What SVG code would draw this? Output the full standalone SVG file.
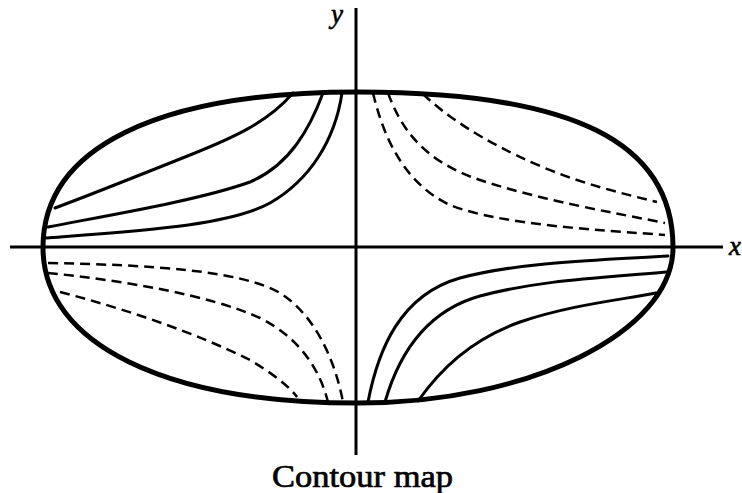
<svg xmlns="http://www.w3.org/2000/svg" width="742" height="493" viewBox="0 0 742 493">
<style>
.bg{fill:#fff}
.outline{fill:none;stroke:#000;stroke-width:5;stroke-linejoin:round}
.axis{fill:none;stroke:#000;stroke-width:3}
.solid{fill:none;stroke:#000;stroke-width:3;stroke-linecap:round}
.dash{fill:none;stroke:#000;stroke-width:2.5;stroke-dasharray:10 6}
.lbl{font-family:"Liberation Serif","Times New Roman",serif;font-style:italic;font-size:27px;fill:#000;stroke:#000;stroke-width:0.6}
.cap{font-family:"Liberation Serif","Times New Roman",serif;font-size:32px;fill:#000;stroke:#000;stroke-width:0.7}
</style>
<rect class="bg" x="0" y="0" width="742" height="493"/>
<g id="contours-solid">
<path class="solid" d="M293,93 C268,122 235,137 190,155 C150,171 90,195 55,208"/>
<path class="solid" d="M323,93 C310,128 290,165 250,182 C200,200 110,215 48,227"/>
<path class="solid" d="M342,93 C335,140 310,180 270,203 C230,225 150,230 46,238"/>
<path class="solid" d="M368,402 C378,350 400,295 460,278 C520,262 600,260 668,256"/>
<path class="solid" d="M385,402 C400,350 430,310 480,296 C540,280 600,278 666,272"/>
<path class="solid" d="M418,401 C440,370 470,340 520,322 C570,305 620,300 656,293"/>
</g>
<g id="contours-dashed">
<path class="dash" d="M373,93 C383,135 403,183 450,205 C500,225 600,230 665,235"/>
<path class="dash" d="M388,93 C400,125 420,160 480,180 C540,200 610,212 665,223"/>
<path class="dash" d="M423,94 C445,115 480,140 540,166 C580,183 620,193 657,202"/>
<path class="dash" d="M48,263 C150,265 240,270 280,293 C315,315 335,360 343,402"/>
<path class="dash" d="M48,273 C120,280 210,295 260,318 C300,338 320,370 328,402"/>
<path class="dash" d="M60,292 C130,310 200,335 250,360 C270,372 288,385 297,397"/>
</g>
<g id="axes">
<line class="axis" x1="10" y1="247" x2="723" y2="247"/>
<line class="axis" x1="356" y1="8" x2="356" y2="455"/>
</g>
<g id="boundary">
<path class="outline" d="M673,247.5 C673,141.8 572.2,92 358,92 C156.4,92 43,148 43,247.5 C43,343.9 165,403 358,403 C530,403 673,332 673,247.5 Z"/>
</g>
<g id="labels">
<text class="lbl" x="331" y="23">y</text>
<text class="lbl" x="729" y="255">x</text>
<text class="cap" x="362.5" y="487" text-anchor="middle" textLength="181" lengthAdjust="spacingAndGlyphs">Contour map</text>
</g>
</svg>
